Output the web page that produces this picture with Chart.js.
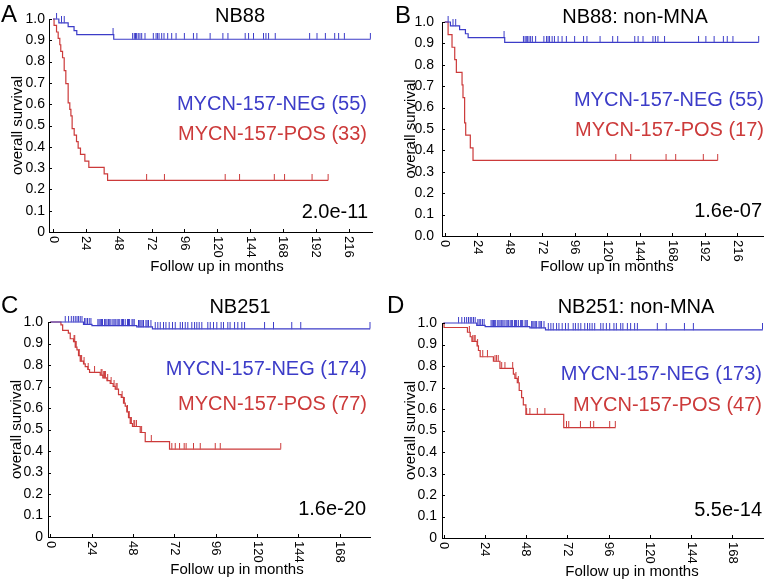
<!DOCTYPE html>
<html>
<head>
<meta charset="utf-8">
<script src="https://cdn.jsdelivr.net/npm/chart.js@4.4.0/dist/chart.umd.min.js"></script>
<style>
  html, body { margin: 0; padding: 0; background: #fff; }
  #fig { position: relative; width: 768px; height: 582px; }
  #fig canvas { position: absolute; }
</style>
</head>
<body>
<div id="fig">
  <canvas id="chartA" width="384" height="290" style="left:0px;top:0px"></canvas>
  <canvas id="chartB" width="384" height="290" style="left:384px;top:0px"></canvas>
  <canvas id="chartC" width="384" height="292" style="left:0px;top:290px"></canvas>
  <canvas id="chartD" width="384" height="292" style="left:384px;top:290px"></canvas>
</div>
<script>
// ---- data ----
const yTickValues = [0, 0.1, 0.2, 0.3, 0.4, 0.5, 0.6, 0.7, 0.8, 0.9, 1.0];
const xTicksNB88 = [0, 24, 48, 72, 96, 120, 144, 168, 192, 216];
const xTicksNB251 = [0, 24, 48, 72, 96, 120, 144, 168];

// NB88 MYCN-157-NEG (55) - same curve in A and B
const negNB88Times = [0, 4.2, 11, 15.3, 17.3, 44.3, 231.8];
const negNB88Surv = [1, 0.982, 0.964, 0.945, 0.927, 0.905, 0.905];
const negNB88Censor = [2.5, 6.1, 8.1, 43.8, 58.1, 59.3, 60.2, 61, 62.2, 63.4, 64.7, 67.1, 73.2, 75.2, 76.3, 77.4,
  79.3, 81, 83.7, 86.6, 89.8, 95.9, 102.5, 105, 114.7, 124, 127.7, 140.3, 142.8, 146.4, 153.7, 155.5, 157.4,
  162.3, 187.4, 192.8, 198.9, 205.7, 208.6, 212.8, 231.8];

// NB88 MYCN-157-POS (33)
const posNB88Times = [0, 0.7, 2.5, 3.7, 4.9, 5.6, 6.9, 8.1, 9.3, 11, 12.2, 13, 13.9, 15.4, 17.1, 18.3, 20, 23.2,
  26.1, 37.3, 39.8, 200.9];
const posNB88Surv = [1, 0.970, 0.939, 0.909, 0.879, 0.848, 0.818, 0.758, 0.697, 0.606, 0.576, 0.545, 0.485,
  0.455, 0.424, 0.394, 0.364, 0.333, 0.303, 0.273, 0.242, 0.242];
const posNB88Censor = [68.3, 81.3, 125.7, 136.2, 161.6, 169.1, 189.2, 200.9];

// NB88 non-MNA MYCN-157-POS (17)
const posNB88nmTimes = [0, 2.5, 5.4, 7.4, 8.6, 12.8, 13.5, 14.7, 15.5, 18.9, 20.9, 201.5];
const posNB88nmSurv = [1, 0.941, 0.882, 0.824, 0.765, 0.706, 0.647, 0.529, 0.471, 0.412, 0.353, 0.353];
const posNB88nmCensor = [126.3, 137.3, 163.4, 170.5, 190.9, 201.5];

// NB251 MYCN-157-NEG (174 / 173)
const negNB251Times = [0, 19.3, 24.2, 50.2, 59.3, 185.5];
const negNB251Surv = [1, 0.989, 0.983, 0.977, 0.968, 0.968];
const negNB251Censor = [8.7, 10.6, 12.2, 13.4, 14.5, 15.5, 16.4, 17.4, 18.4, 19.9, 20.7, 21.6, 22.6, 23.6, 27.6,
  28.3, 29, 29.7, 30.3, 31.5, 32.2, 32.9, 33.8, 34.5, 35.2, 36.3, 37, 37.7, 38.7, 39.4, 40, 41.2, 41.9, 42.5,
  43.5, 44.8, 45.4, 46, 47.4, 48, 48.7, 51.2, 51.9, 52.6, 53.3, 54.1, 55.5, 56.2, 57, 58.4, 60.9, 62.4, 63.8,
  65.7, 67.1, 69, 70.9, 72.5, 75.4, 76.7, 78.3, 79.8, 82.1, 83.7, 85, 86.4, 87.9, 91.4, 92.8, 94.7, 96.6, 99.1,
  100.5, 103, 104.3, 106.9, 108.8, 111.1, 112.7, 124.3, 129.5, 140.1, 145.3, 185.5];

// NB251 MYCN-157-POS (77)
const posNB251Times = [0, 6.2, 7.2, 10.5, 11.6, 13.5, 14.5, 15.5, 16.4, 17.4, 19.3, 20.3, 21.8, 22.8, 29, 30.5,
  32.9, 34.8, 36.5, 37.7, 39.6, 41.2, 42.5, 43.5, 44.4, 45.4, 46.4, 47.7, 52.2, 55.1, 69.2, 133.7];
const posNB251Surv = [1, 0.987, 0.961, 0.948, 0.922, 0.909, 0.883, 0.870, 0.844, 0.818, 0.805, 0.792, 0.779,
  0.766, 0.753, 0.740, 0.727, 0.714, 0.701, 0.688, 0.662, 0.649, 0.623, 0.609, 0.582, 0.555, 0.528, 0.514,
  0.486, 0.444, 0.409, 0.409];
const posNB251Censor = [13.8, 14.2, 14.8, 15.0, 16.8, 17.8, 18.2, 19.6, 22, 25.7, 29.5, 30, 31, 31.5, 32, 33.3,
  35.3, 37, 38.2, 38.8, 41.7, 43, 44.8, 45.8, 46.8, 47, 48.5, 49, 50, 53, 58.6, 70.5, 72.5, 75, 77.7, 78.8,
  83.1, 87, 95.7, 98.6, 133.7];

// NB251 non-MNA MYCN-157-POS (47)
const posNB251nmTimes = [0, 0.3, 13.9, 15.5, 16.5, 19.5, 20.3, 21.3, 29, 32.8, 40.6, 41.5, 42.9, 44, 45.4, 46.4,
  47.9, 69.9, 99.9];
const posNB251nmSurv = [1, 0.979, 0.957, 0.936, 0.915, 0.894, 0.872, 0.843, 0.822, 0.789, 0.762, 0.742, 0.722,
  0.686, 0.653, 0.619, 0.575, 0.513, 0.513];
const posNB251nmCensor = [15, 17, 17.8, 18.4, 19.8, 22.8, 25.5, 29.9, 30.8, 31.8, 33.8, 35.7, 40.2, 42.1, 43.5,
  48.3, 50.2, 54.5, 58.9, 71.5, 72.8, 79.6, 85.4, 87.3, 96.6, 99.9];

const BLUE = '#3c3cc8';
const RED = '#cc3a3a';
const FONT = "'Liberation Sans', Arial, sans-serif";

Chart.defaults.font.family = FONT;
Chart.defaults.color = '#000';

// censor mark: short vertical stroke sitting on top of the curve
function censorMark(color) {
  const c = document.createElement('canvas');
  c.width = 3; c.height = 13;
  const g = c.getContext('2d');
  g.strokeStyle = color;
  g.lineWidth = 1;
  g.beginPath(); g.moveTo(1.5, 0); g.lineTo(1.5, 6.5); g.stroke();
  return c;
}
const blueMark = censorMark(BLUE);
const redMark = censorMark(RED);

function curvePoints(times, surv) {
  return times.map((t, i) => ({ x: t, y: surv[i] }));
}
// level of the step curve at each censoring time
function censorPoints(times, surv, censor) {
  return censor.map(c => {
    let s = surv[0];
    for (let i = 0; i < times.length; i++) if (times[i] <= c) s = surv[i];
    return { x: c, y: s };
  });
}

function kmSets(times, surv, censor, color, mark) {
  return [
    { data: curvePoints(times, surv), borderColor: color, borderWidth: 1.2, stepped: true,
      pointRadius: 0, clip: false },
    { data: censorPoints(times, surv, censor), showLine: false, pointStyle: mark, pointRadius: 3,
      clip: false }
  ];
}

// draws rotated x labels, inward ticks and the panel annotations
const decor = {
  id: 'decor',
  afterDraw(chart, args, o) {
    const ctx = chart.ctx;
    const xs = chart.scales.x, ys = chart.scales.y;
    const area = chart.chartArea;
    ctx.save();
    ctx.strokeStyle = '#000';
    ctx.lineWidth = 1;
    ctx.beginPath();
    o.xTicks.forEach(v => {
      const px = Math.round(xs.getPixelForValue(v)) + 0.5;
      ctx.moveTo(px, area.bottom); ctx.lineTo(px, area.bottom - 3);
    });
    yTickValues.forEach(v => {
      const py = Math.round(ys.getPixelForValue(v)) + 0.5;
      ctx.moveTo(area.left, py); ctx.lineTo(area.left + 3, py);
    });
    ctx.stroke();

    ctx.fillStyle = '#000';
    ctx.font = '13px ' + FONT;
    ctx.textAlign = 'left';
    ctx.textBaseline = 'middle';
    o.xTicks.forEach(v => {
      ctx.save();
      ctx.translate(xs.getPixelForValue(v), area.bottom + 4);
      ctx.rotate(Math.PI / 2);
      ctx.fillText(String(v), 0, 0);
      ctx.restore();
    });

    ctx.textBaseline = 'alphabetic';
    o.texts.forEach(t => {
      ctx.font = t.size + 'px ' + FONT;
      ctx.fillStyle = t.color || '#000';
      ctx.textAlign = t.align;
      ctx.fillText(t.text, t.x, t.y);
    });
    ctx.restore();
  }
};

function makePanel(id, p) {
  new Chart(document.getElementById(id), {
    type: 'line',
    data: { datasets: p.datasets },
    plugins: [decor],
    options: {
      responsive: false,
      animation: false,
      layout: { padding: p.padding },
      plugins: {
        legend: { display: false },
        tooltip: { enabled: false },
        decor: { xTicks: p.xTicks, texts: p.texts }
      },
      scales: {
        x: {
          type: 'linear', min: p.xMin, max: p.xMax,
          grid: { display: false, drawTicks: false },
          border: { display: true, color: '#000', width: 1 },
          ticks: { display: false },
          afterFit: s => { s.height = 40; }
        },
        y: {
          min: 0, max: 1,
          grid: { display: false, drawTicks: false },
          border: { display: true, color: '#000', width: 1 },
          ticks: {
            stepSize: 0.1, padding: p.yPad, color: '#000', font: { size: 14 },
            callback: v => (v === 0 ? p.zeroLabel : v.toFixed(1))
          },
          title: {
            display: true, text: 'overall survival', color: '#000', font: { size: 15 },
            padding: { top: p.yTitlePad, bottom: 0 }
          },
          afterFit: s => { s.width = p.yWidth; }
        }
      }
    }
  });
}

makePanel('chartA', {
  xMin: -3, xMax: 233, xTicks: xTicksNB88, zeroLabel: '0',
  padding: { left: 0, top: 19, right: 12, bottom: 18 }, yWidth: 49, yPad: 4, yTitlePad: 9,
  datasets: [
    ...kmSets(negNB88Times, negNB88Surv, negNB88Censor, BLUE, blueMark),
    ...kmSets(posNB88Times, posNB88Surv, posNB88Censor, RED, redMark)
  ],
  texts: [
    { text: 'A', x: 1, y: 22, size: 24, align: 'left' },
    { text: 'NB88', x: 240, y: 21.5, size: 20, align: 'center' },
    { text: 'MYCN-157-NEG (55)', x: 367, y: 110, size: 20, align: 'right', color: BLUE },
    { text: 'MYCN-157-POS (33)', x: 367, y: 140, size: 20, align: 'right', color: RED },
    { text: '2.0e-11', x: 368, y: 218, size: 20, align: 'right' },
    { text: 'Follow up in months', x: 217, y: 271, size: 15, align: 'center' }
  ]
});

makePanel('chartB', {
  xMin: -2, xMax: 235, xTicks: xTicksNB88, zeroLabel: '0.0',
  padding: { left: 0, top: 22, right: 4, bottom: 14 }, yWidth: 58, yPad: 8, yTitlePad: 18,
  datasets: [
    ...kmSets(negNB88Times, negNB88Surv, negNB88Censor, BLUE, blueMark),
    ...kmSets(posNB88nmTimes, posNB88nmSurv, posNB88nmCensor, RED, redMark)
  ],
  texts: [
    { text: 'B', x: 11, y: 22.5, size: 24, align: 'left' },
    { text: 'NB88: non-MNA', x: 251, y: 23, size: 20, align: 'center' },
    { text: 'MYCN-157-NEG (55)', x: 380, y: 106, size: 20, align: 'right', color: BLUE },
    { text: 'MYCN-157-POS (17)', x: 380, y: 136, size: 20, align: 'right', color: RED },
    { text: '1.6e-07', x: 378, y: 217, size: 20, align: 'right' },
    { text: 'Follow up in months', x: 223, y: 271, size: 15, align: 'center' }
  ]
});

makePanel('chartC', {
  xMin: -1.3, xMax: 185.5, xTicks: xTicksNB251, zeroLabel: '0',
  padding: { left: 0, top: 32, right: 14, bottom: 5 }, yWidth: 48, yPad: 5, yTitlePad: 8,
  datasets: [
    ...kmSets(negNB251Times, negNB251Surv, negNB251Censor, BLUE, blueMark),
    ...kmSets(posNB251Times, posNB251Surv, posNB251Censor, RED, redMark)
  ],
  texts: [
    { text: 'C', x: 1, y: 22.5, size: 24, align: 'left' },
    { text: 'NB251', x: 240, y: 22.5, size: 20, align: 'center' },
    { text: 'MYCN-157-NEG (174)', x: 367, y: 85, size: 20, align: 'right', color: BLUE },
    { text: 'MYCN-157-POS (77)', x: 367, y: 120, size: 20, align: 'right', color: RED },
    { text: '1.6e-20', x: 366, y: 225, size: 20, align: 'right' },
    { text: 'Follow up in months', x: 237, y: 284, size: 15, align: 'center' }
  ]
});

makePanel('chartD', {
  xMin: -0.9, xMax: 185.8, xTicks: xTicksNB251, zeroLabel: '0',
  padding: { left: 0, top: 33, right: 4, bottom: 4 }, yWidth: 58, yPad: 5, yTitlePad: 18,
  datasets: [
    ...kmSets(negNB251Times, negNB251Surv, negNB251Censor, BLUE, blueMark),
    ...kmSets(posNB251nmTimes, posNB251nmSurv, posNB251nmCensor, RED, redMark)
  ],
  texts: [
    { text: 'D', x: 3, y: 22.5, size: 24, align: 'left' },
    { text: 'NB251: non-MNA', x: 252, y: 23, size: 20, align: 'center' },
    { text: 'MYCN-157-NEG (173)', x: 378, y: 90, size: 20, align: 'right', color: BLUE },
    { text: 'MYCN-157-POS (47)', x: 378, y: 120.5, size: 20, align: 'right', color: RED },
    { text: '5.5e-14', x: 378, y: 226, size: 20, align: 'right' },
    { text: 'Follow up in months', x: 248, y: 286, size: 15, align: 'center' }
  ]
});
</script>
</body>
</html>
